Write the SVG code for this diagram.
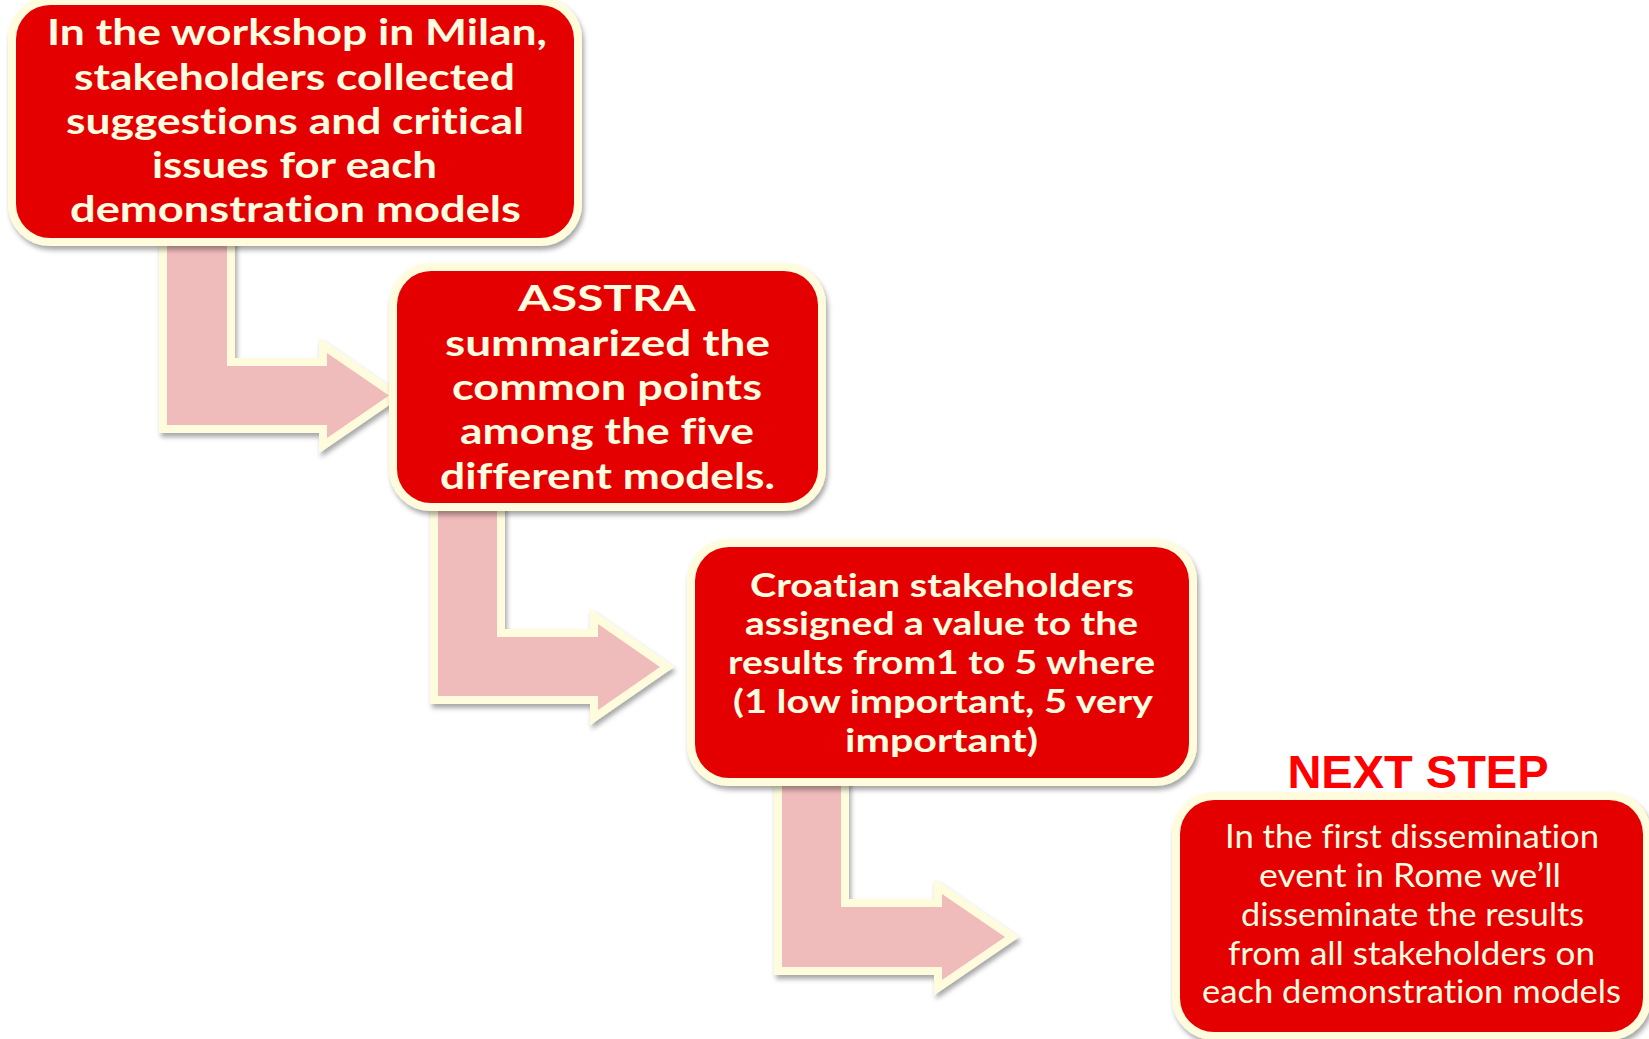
<svg xmlns="http://www.w3.org/2000/svg" width="1649" height="1039" viewBox="0 0 1649 1039">
<defs>
<filter id="sh" x="-10%" y="-10%" width="120%" height="125%">
<feDropShadow dx="2" dy="4" stdDeviation="2.5" flood-color="#000" flood-opacity="0.35"/>
</filter>
<style>
.arrow{fill:#F0BBBB;stroke:#FEFCDC;stroke-width:16;stroke-linejoin:miter;stroke-miterlimit:6;paint-order:stroke fill;filter:url(#sh)}
.box{fill:#E40000;stroke:#FEFCDC;stroke-width:16;paint-order:stroke fill;filter:url(#sh)}
.tb,.tr{font-family:Lato,"Open Sans","DejaVu Sans",sans-serif;fill:#FFFCE0;font-variant-ligatures:none;font-feature-settings:"liga" 0,"clig" 0,"dlig" 0,"calt" 0}
.tb{font-weight:700}
.tr{font-weight:400}
.title{font-family:"Liberation Sans",Arial,sans-serif;font-weight:700;fill:#FF0000;text-anchor:middle}
</style>
</defs>
<rect width="1649" height="1039" fill="#FFFFFF"/>
<g id="connectors">
<path class="arrow" d="M167,230 L227,230 L227,366 L327,366 L327,353 L389,395.5 L327,438 L327,425 L167,425 Z"/>
<path class="arrow" d="M438,500 L497,500 L497,637 L598,637 L598,624 L660,667 L598,710 L598,696 L438,696 Z"/>
<path class="arrow" d="M782,775 L841,775 L841,907 L942,907 L942,894 L1005,937 L942,980 L942,967 L782,967 Z"/>
</g>
<g id="node1">
<rect class="box" x="16" y="5" width="558" height="233" rx="34" ry="34"/>
<text class="tb" font-size="37">
<tspan x="47" y="45" textLength="500" lengthAdjust="spacingAndGlyphs">In the workshop in Milan,</tspan>
<tspan x="74" y="89.5" textLength="441" lengthAdjust="spacingAndGlyphs">stakeholders collected</tspan>
<tspan x="66" y="134" textLength="458" lengthAdjust="spacingAndGlyphs">suggestions and critical</tspan>
<tspan x="152" y="178" textLength="285" lengthAdjust="spacingAndGlyphs">issues for each</tspan>
<tspan x="70" y="222" textLength="451" lengthAdjust="spacingAndGlyphs">demonstration models</tspan>
</text>
</g>
<g id="node2">
<rect class="box" x="397" y="271" width="421" height="232" rx="34" ry="34"/>
<text class="tb" font-size="37">
<tspan x="518" y="311" textLength="176" lengthAdjust="spacingAndGlyphs">ASSTRA</tspan>
<tspan x="445" y="356" textLength="325" lengthAdjust="spacingAndGlyphs">summarized the</tspan>
<tspan x="452" y="400" textLength="310" lengthAdjust="spacingAndGlyphs">common points</tspan>
<tspan x="460" y="444" textLength="294" lengthAdjust="spacingAndGlyphs">among the five</tspan>
<tspan x="440" y="489" textLength="335" lengthAdjust="spacingAndGlyphs">different models.</tspan>
</text>
</g>
<g id="node3">
<rect class="box" x="695" y="547" width="494" height="231" rx="34" ry="34"/>
<text class="tb" font-size="32">
<tspan x="750" y="597" textLength="384" lengthAdjust="spacingAndGlyphs">Croatian stakeholders</tspan>
<tspan x="745" y="635" textLength="393" lengthAdjust="spacingAndGlyphs">assigned a value to the</tspan>
<tspan x="728" y="674" textLength="427" lengthAdjust="spacingAndGlyphs">results from1  to 5 where</tspan>
<tspan x="733" y="713" textLength="419" lengthAdjust="spacingAndGlyphs">(1 low important, 5 very</tspan>
<tspan x="845" y="752" textLength="193" lengthAdjust="spacingAndGlyphs">important)</tspan>
</text>
</g>
<g id="node4">
<text class="title" font-size="47" x="1418" y="788">NEXT STEP</text>
<rect class="box" x="1180" y="800" width="463" height="232" rx="34" ry="34"/>
<text class="tr" font-size="32">
<tspan x="1225" y="848" textLength="374" lengthAdjust="spacingAndGlyphs">In the first dissemination</tspan>
<tspan x="1259" y="887" textLength="302" lengthAdjust="spacingAndGlyphs">event in Rome we’ll</tspan>
<tspan x="1241" y="926" textLength="343" lengthAdjust="spacingAndGlyphs">disseminate the results</tspan>
<tspan x="1228" y="965" textLength="367" lengthAdjust="spacingAndGlyphs">from all stakeholders on</tspan>
<tspan x="1202" y="1003" textLength="419" lengthAdjust="spacingAndGlyphs">each demonstration models</tspan>
</text>
</g>
</svg>
